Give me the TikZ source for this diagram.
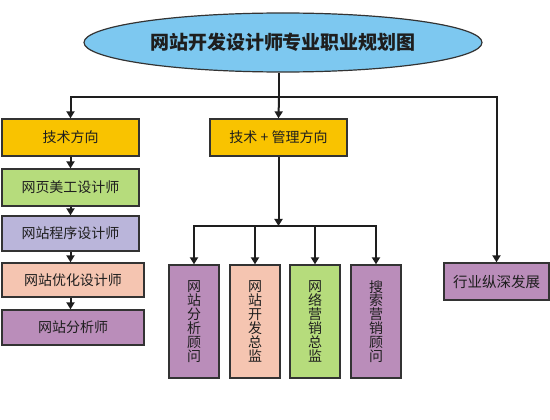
\documentclass[tikz,border=0pt]{standalone}
\usepackage{fontspec}
\setmainfont{Noto Sans CJK SC}
\usetikzlibrary{arrows.meta,shapes.geometric}
\definecolor{yel}{HTML}{F9C300}
\definecolor{grn}{HTML}{B6DC7C}
\definecolor{lav}{HTML}{BAB5DA}
\definecolor{pch}{HTML}{F5C5B1}
\definecolor{prp}{HTML}{BA8DBA}
\definecolor{sky}{HTML}{7DC8F0}
\definecolor{edge}{HTML}{333333}
\definecolor{ink}{HTML}{1E1E1E}
\begin{document}
\begin{tikzpicture}[x=1pt,y=-1pt,
  box/.style={draw=edge, line width=1.3pt, rectangle, inner sep=0pt, text=ink, font=\fontsize{14}{15}\selectfont},
  vbox/.style={box, minimum width=50pt, minimum height=113pt, align=center, font=\fontsize{14}{13.9}\selectfont},
  conn/.style={draw=ink, line width=2pt},
  arr/.style={conn, -{Triangle[length=7pt,width=8pt]}}]
\useasboundingbox (0,0) rectangle (550,420);
\fill[white] (0,0) rectangle (550,420);

\node[ellipse, draw=edge, line width=1.2pt, fill=sky, minimum width=398pt, minimum height=59pt, inner sep=0pt, text=ink, font=\fontsize{19}{21}\selectfont\bfseries] (title) at (283,42.5) {网站开发设计师专业职业规划图};

\node[box, fill=yel, minimum width=137pt, minimum height=37pt] (tech) at (70.5,137.5) {技术方向};
\node[box, fill=yel, minimum width=137pt, minimum height=37pt] (mgmt) at (278.5,137.5) {技术 + 管理方向};
\node[box, fill=grn, minimum width=137pt, minimum height=37pt] (w1) at (70.5,187.5) {网页美工设计师};
\node[box, fill=lav, minimum width=137pt, minimum height=35pt] (w2) at (70.5,233.5) {网站程序设计师};
\node[box, fill=pch, minimum width=142pt, minimum height=34pt] (w3) at (73,280) {网站优化设计师};
\node[box, fill=prp, minimum width=142pt, minimum height=35pt] (w4) at (73,327.5) {网站分析师};

\node[vbox, fill=prp] (v1) at (194,321.5) {网\\站\\分\\析\\顾\\问};
\node[vbox, fill=pch] (v2) at (255,321.5) {网\\站\\开\\发\\总\\监};
\node[vbox, fill=grn] (v3) at (315,321.5) {网\\络\\营\\销\\总\\监};
\node[vbox, fill=prp] (v4) at (376,321.5) {搜\\索\\营\\销\\顾\\问};

\node[box, fill=prp, minimum width=105pt, minimum height=37pt, font=\fontsize{14.5}{15}\selectfont] (ind) at (496.5,281.5) {行业纵深发展};

\coordinate (j1) at (279,97);
\coordinate (j2) at (278.5,226);
\draw[draw=ink, line width=1.3pt] (j1 |- title.south) -- (j1);
\draw[arr] (j1) -| (tech.north);
\draw[arr] (j1) -- (mgmt.north);
\draw[arr] (j1) -| (ind.north);

\draw[arr] (tech.south) -- (w1.north);
\draw[arr] (w1.south) -- (w2.north);
\draw[arr] (w2.south) -- (w2.south |- w3.north);
\draw[arr] (w2.south |- w3.south) -- (w2.south |- w4.north);

\draw[arr] (mgmt.south) -- (j2);
\draw[arr] (j2) -| (v1.north);
\draw[arr] (j2) -| (v2.north);
\draw[arr] (j2) -| (v3.north);
\draw[arr] (j2) -| (v4.north);
\end{tikzpicture}
\end{document}
